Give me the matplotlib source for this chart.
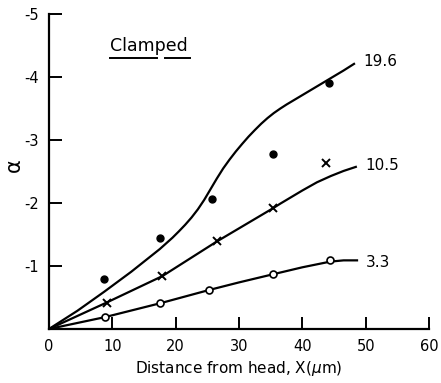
import numpy as np
import matplotlib
matplotlib.use("Agg")
import matplotlib.pyplot as plt

# ── measured points (X in um, alpha) ─────────────────────────────────────────
x_196 = [8.7, 17.5, 25.8, 35.3, 44.2]
a_196 = [-0.80, -1.45, -2.06, -2.78, -3.90]

x_105 = [9.1, 17.9, 26.5, 35.4, 43.8]
a_105 = [-0.42, -0.84, -1.39, -1.92, -2.63]

x_33 = [8.9, 17.6, 25.3, 35.4, 44.4]
a_33 = [-0.19, -0.41, -0.62, -0.87, -1.10]

# ── fitted curves, traced by hand ────────────────────────────────────────────
cx_196 = [0, 4.5, 8.7, 13, 17.5, 18.5, 19.5, 20.5, 21.5, 22.5, 23.5, 24.5,
          25.5, 26.5, 27.5, 28.5, 29.5, 30.5, 31.5, 32.5, 33.5, 34.5, 35.5,
          36.5, 37.5, 38.5, 40.5, 42.5, 44.5, 46.5, 48.3]
ca_196 = [0, -0.29, -0.59, -0.91, -1.27, -1.36, -1.45, -1.55, -1.655, -1.77,
          -1.90, -2.05, -2.22, -2.39, -2.55, -2.69, -2.82, -2.94, -3.055,
          -3.16, -3.26, -3.35, -3.43, -3.50, -3.565, -3.625, -3.745, -3.865,
          -3.985, -4.105, -4.22]

cx_105 = [0, 9.1, 17.9, 26.5, 35.4, 36.5, 38, 40, 42.3, 44.5, 46.5, 48.6]
ca_105 = [0, -0.42, -0.84, -1.39, -1.92, -1.99, -2.08, -2.20, -2.33, -2.43,
          -2.51, -2.58]

cx_33 = [0, 8.9, 17.6, 25.3, 30, 35.4, 40, 44.4, 46.5, 48.8]
ca_33 = [0, -0.19, -0.41, -0.62, -0.74, -0.87, -0.98, -1.07, -1.09, -1.09]

labels = ["19.6", "10.5", "3.3"]
label_xy = [(49.6, -4.25), (49.9, -2.59), (50.0, -1.06)]

xticks = [0, 10, 20, 30, 40, 50, 60]
yticks = [-1, -2, -3, -4, -5]

fig = plt.figure(figsize=(4.41, 3.83), dpi=100)
ax = fig.add_axes([0.111, 0.141, 0.862, 0.822])

lw = 1.6
for cx, ca in [(cx_196, ca_196), (cx_105, ca_105), (cx_33, ca_33)]:
    ax.plot(cx, ca, color="black", lw=lw, solid_capstyle="butt",
            solid_joinstyle="round")

ax.plot(x_196, a_196, "o", ms=5, color="black", ls="none")
ax.plot(x_105, a_105, "x", ms=6, mew=1.4, color="black", ls="none")
ax.plot(x_33, a_33, "o", ms=5, mfc="white", mec="black", mew=1.2, ls="none")

for txt, (tx, ty) in zip(labels, label_xy):
    ax.text(tx, ty, txt, fontsize=11, ha="left", va="center")

# underlined heading
ax.text(9.6, -4.49, "Clamped", fontsize=12.5, ha="left", va="center")
ax.plot([9.6, 17.0], [-4.31, -4.31], color="black", lw=1.4)
ax.plot([18.3, 22.2], [-4.31, -4.31], color="black", lw=1.4)

ax.set_xlim(0, 60)
ax.set_ylim(0, -5)
ax.set_xticks(xticks)
ax.set_xticklabels([str(v) for v in xticks])
ax.set_yticks(yticks)
ax.set_yticklabels(["-%d" % abs(v) for v in yticks])

for side in ["top", "right"]:
    ax.spines[side].set_visible(False)
for side in ["left", "bottom"]:
    ax.spines[side].set_linewidth(1.6)

ax.tick_params(direction="in", length=9, width=1.4, labelsize=10.5, pad=7)
ax.set_xlabel("Distance from head, X($\\mu$m)", fontsize=11, labelpad=4)
ax.set_ylabel("α", fontsize=15)
ax.yaxis.set_label_coords(-0.066, 0.52)

fig.savefig("out.png", dpi=100)
